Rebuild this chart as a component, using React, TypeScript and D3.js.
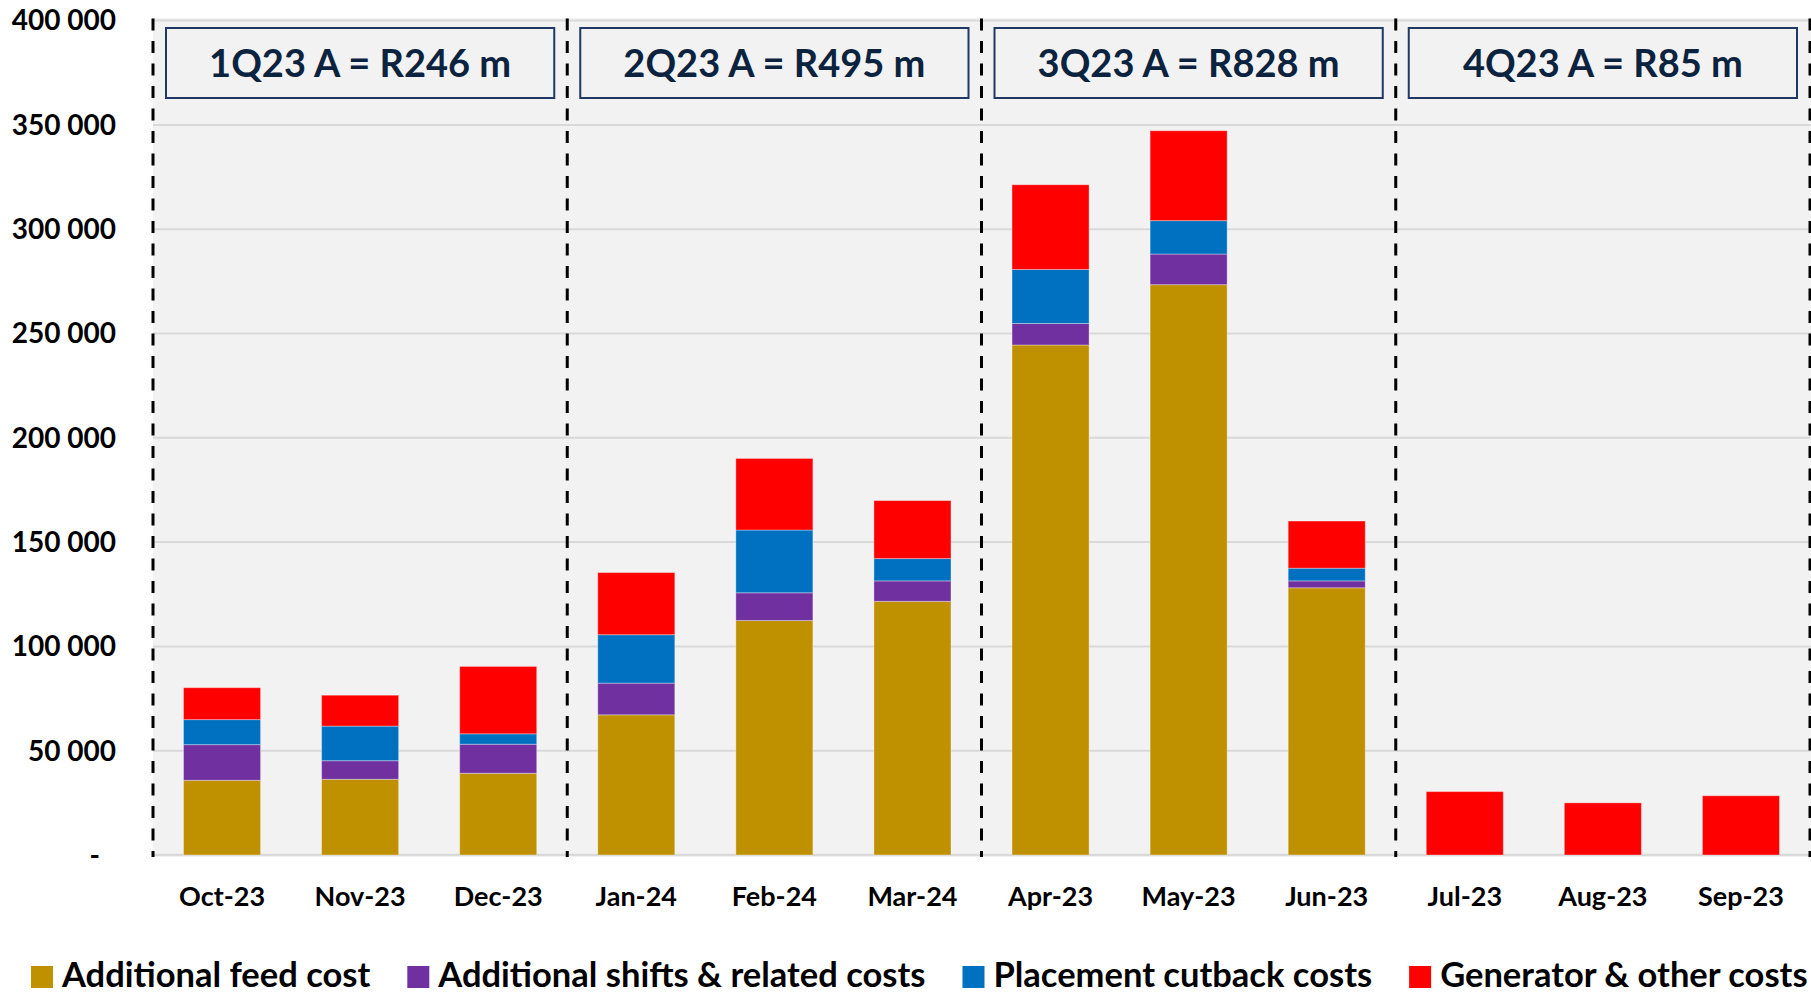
import React, { useEffect, useRef } from 'react';
import * as d3 from 'd3';

const months = ['Oct-23', 'Nov-23', 'Dec-23', 'Jan-24', 'Feb-24', 'Mar-24', 'Apr-23', 'May-23', 'Jun-23', 'Jul-23', 'Aug-23', 'Sep-23'];
const feedCost = [35800, 36300, 39200, 67200, 112400, 121600, 244500, 273400, 128100, 0, 0, 0];
const shiftCosts = [17100, 8900, 13900, 15200, 13300, 9800, 10300, 14700, 3300, 0, 0, 0];
const placementCosts = [12000, 16600, 5000, 23200, 30100, 10700, 25900, 16000, 6100, 0, 0, 0];
const generatorCosts = [15300, 14800, 32300, 29800, 34300, 27800, 40600, 43100, 22600, 30400, 25000, 28400];

const seriesKeys = ['feed', 'shifts', 'placement', 'generator'];
const seriesNames = ['Additional feed cost', 'Additional shifts & related costs', 'Placement cutback costs', 'Generator & other costs'];
const seriesColors = ['#bf9000', '#7030a0', '#0070c0', '#ff0000'];

const quarterLabels = ['1Q23 A = R246 m', '2Q23 A = R495 m', '3Q23 A = R828 m', '4Q23 A = R85 m'];
const yTicks = [0, 50000, 100000, 150000, 200000, 250000, 300000, 350000, 400000];

const W = 1811;
const H = 996;
const FONT = 'Lato, "Open Sans", sans-serif';

export default function App() {
  const ref = useRef<SVGSVGElement>(null);

  useEffect(() => {
    document.body.style.margin = '0';
    const svg = d3.select(ref.current);
    svg.selectAll('*').remove();

    const plotLeft = 153;
    const plotRight = 1810;
    const x = d3.scaleBand().domain(months).range([plotLeft, plotRight]).paddingInner(0.442).paddingOuter(0.221);
    const y = d3.scaleLinear().domain([0, 400000]).range([855, 20.6]);
    const boundary = (i: number) => plotLeft + i * x.step();

    const rows = months.map((m, i) => ({
      month: m,
      feed: feedCost[i],
      shifts: shiftCosts[i],
      placement: placementCosts[i],
      generator: generatorCosts[i],
    }));
    const stacked = d3.stack<any>().keys(seriesKeys)(rows);

    // plot background
    svg.append('rect')
      .attr('x', plotLeft)
      .attr('y', y(400000) - 2.5)
      .attr('width', W - plotLeft)
      .attr('height', y(0) - y(400000) + 4)
      .attr('fill', '#f2f2f2');

    // gridlines
    svg.append('g')
      .selectAll('line')
      .data(yTicks)
      .enter()
      .append('line')
      .attr('x1', plotLeft)
      .attr('x2', W)
      .attr('y1', d => y(d))
      .attr('y2', d => y(d))
      .attr('stroke', '#d9d9d9')
      .attr('stroke-width', d => (d === 0 ? 2.5 : 2));

    // y labels
    svg.append('g')
      .selectAll('text')
      .data(yTicks)
      .enter()
      .append('text')
      .attr('x', d => (d === 0 ? 100 : 116))
      .attr('y', d => y(d))
      .attr('dy', '0.35em')
      .attr('text-anchor', 'end')
      .style('font-family', FONT)
      .style('font-weight', 700)
      .style('font-size', '28px')
      .attr('fill', '#000')
      .text(d => (d === 0 ? '-' : d3.format(',')(d).replace(/,/g, ' ')));

    // bars
    svg.append('g')
      .selectAll('g')
      .data(stacked)
      .enter()
      .append('g')
      .attr('fill', (d, i) => seriesColors[i])
      .selectAll('rect')
      .data(d => d.filter(p => p[1] - p[0] > 0))
      .enter()
      .append('rect')
      .attr('x', d => x(d.data.month)!)
      .attr('width', x.bandwidth())
      .attr('y', d => y(d[1]))
      .attr('height', d => y(d[0]) - y(d[1]))
      .attr('stroke', 'rgba(255,255,255,0.35)')
      .attr('stroke-width', 1);

    // x labels
    svg.append('g')
      .selectAll('text')
      .data(months)
      .enter()
      .append('text')
      .attr('x', d => x(d)! + x.bandwidth() / 2)
      .attr('y', 897)
      .attr('dy', '0.35em')
      .attr('text-anchor', 'middle')
      .style('font-family', FONT)
      .style('font-weight', 700)
      .style('font-size', '27px')
      .attr('fill', '#000')
      .text(d => d);

    // quarter separators
    svg.append('g')
      .selectAll('line')
      .data([0, 3, 6, 9, 12])
      .enter()
      .append('line')
      .attr('x1', d => boundary(d))
      .attr('x2', d => boundary(d))
      .attr('y1', y(400000) - 2)
      .attr('y2', y(0) + 2)
      .attr('stroke', '#000')
      .attr('stroke-width', 3)
      .attr('stroke-dasharray', '12 10.5');

    // quarter boxes
    const boxes = svg.append('g')
      .selectAll('g')
      .data(quarterLabels)
      .enter()
      .append('g');
    boxes.append('rect')
      .attr('x', (d, i) => boundary(i * 3) + 13)
      .attr('width', () => x.step() * 3 - 26)
      .attr('y', 28)
      .attr('height', 70)
      .attr('fill', '#f2f2f2')
      .attr('stroke', '#1f3864')
      .attr('stroke-width', 2);
    boxes.append('text')
      .attr('x', (d, i) => boundary(i * 3) + x.step() * 1.5)
      .attr('y', 63)
      .attr('dy', '0.36em')
      .attr('text-anchor', 'middle')
      .style('font-family', FONT)
      .style('font-weight', 700)
      .style('font-size', '38px')
      .attr('fill', '#0c2340')
      .text(d => d);

    // legend
    const legend = svg.append('g');
    let lx = 31;
    seriesNames.forEach((name, i) => {
      legend.append('rect')
        .attr('x', lx)
        .attr('y', 966)
        .attr('width', 22)
        .attr('height', 22)
        .attr('fill', seriesColors[i]);
      const t = legend.append('text')
        .attr('x', lx + 31)
        .attr('y', 976)
        .attr('dy', '0.33em')
        .style('font-family', FONT)
        .style('font-weight', 700)
        .style('font-size', '34.5px')
        .attr('fill', '#000')
        .text(name);
      const w = (t.node() as SVGTextElement).getComputedTextLength();
      lx += 31 + w + 37;
    });
  }, []);

  return <svg ref={ref} width={W} height={H} style={{ display: 'block', background: '#fff' }} />;
}
